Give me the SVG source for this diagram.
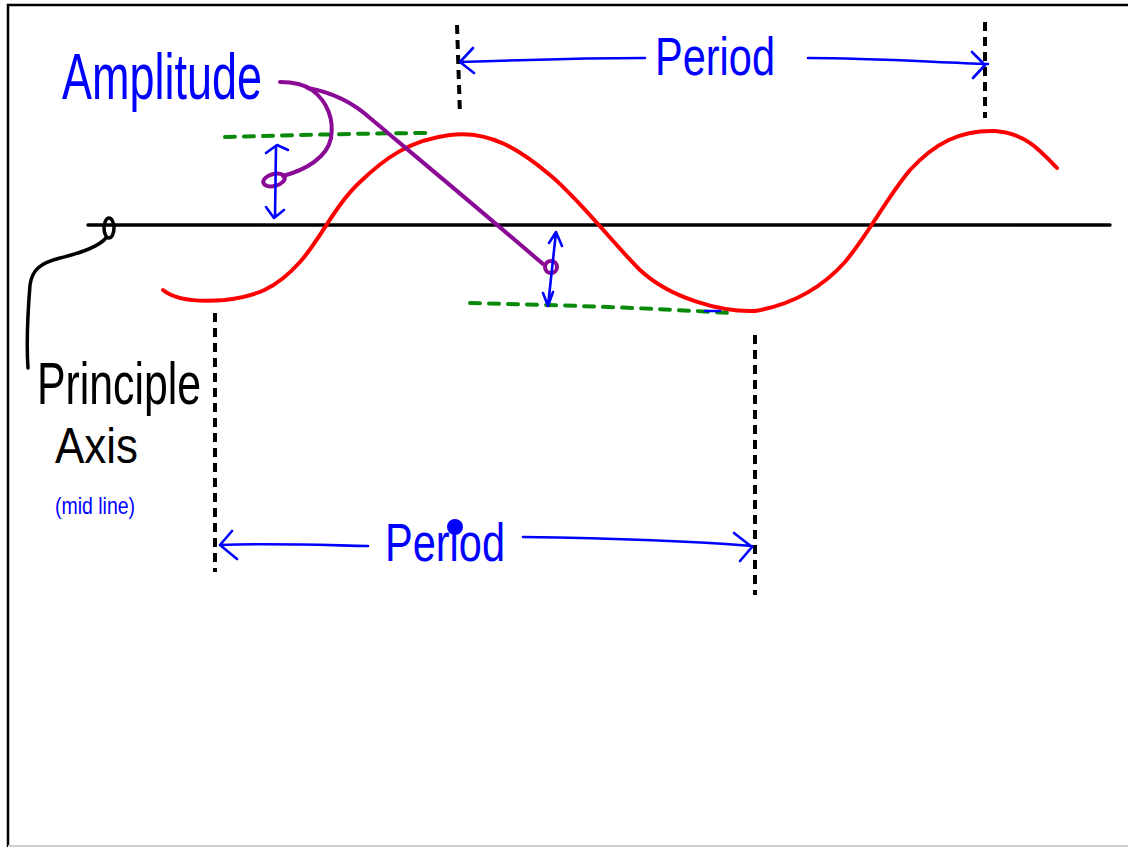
<svg xmlns="http://www.w3.org/2000/svg" width="1128" height="847" viewBox="0 0 1128 847">
<style>
.ink{fill:none;stroke-linecap:round;stroke-linejoin:round}
.blk{stroke:#000;stroke-width:3.5}
.dash{stroke:#000;stroke-width:4;stroke-dasharray:9 6;fill:none}
.grn{stroke:#0a8a0a;stroke-width:4;stroke-dasharray:10 9;fill:none;stroke-linecap:round}
.red{stroke:#ff0000;stroke-width:4}
.pur{stroke:#8a0a96;stroke-width:4}
.blu{stroke:#0000ff;stroke-width:2.6}
.t{font-family:"Liberation Sans","DejaVu Sans",sans-serif}
</style>
<rect x="0" y="0" width="1128" height="847" fill="#fff"/>
<g id="frame">
<path d="M8,847 L8,5 L1128,5" fill="none" stroke="#000" stroke-width="2.5"/>
<line x1="8" y1="846" x2="1128" y2="846" stroke="#d0d0d0" stroke-width="2"/>
</g>
<g id="axis">
<line class="ink blk" x1="88" y1="225" x2="1110" y2="225" stroke-width="4"/>
<ellipse class="ink blk" cx="109" cy="228" rx="5" ry="10" stroke-width="2.5"/>
</g>
<g id="wave">
<path class="ink red" d="M163,290 C175,300 200,302 225,300 C255,296 275,290 300,262 C320,240 335,205 360,182 C385,158 410,140 450,135 C490,130 520,150 550,175 C580,200 610,240 640,270 C670,298 720,312 755,311 C790,305 820,290 845,262 C870,232 885,200 910,170 C935,143 960,130 995,131 C1025,133 1040,150 1057,168"/>
</g>
<g id="guides">
<path class="grn" d="M225,137 C300,135 380,133 432,133"/>
<path class="grn" d="M470,303 C560,305 650,308 730,313"/>
<line class="dash" x1="457" y1="25" x2="460" y2="115"/>
<line class="dash" x1="985" y1="22" x2="985" y2="118"/>
<line class="dash" x1="215" y1="313" x2="215" y2="572"/>
<line class="dash" x1="755" y1="335" x2="755" y2="595"/>
</g>
<g id="connectors">
<path class="ink pur" d="M280,82 C295,82 305,85 312,90 C328,102 334,120 331,138 C327,158 305,170 283,176"/>
<ellipse class="ink pur" cx="274" cy="180" rx="11" ry="6" transform="rotate(-15 274 180)" stroke-width="3.5"/>
<path class="ink pur" d="M308,88 C330,92 350,100 370,118 C420,160 480,210 543,264"/>
<circle class="ink pur" cx="551" cy="267" r="6" stroke-width="3.5"/>
<path class="ink blu" d="M276,147 L275,217 M266,153 L277,145 L288,150 M266,207 L274,218 L284,210"/>
<path class="ink blu" d="M556,232 L548,306 M549,243 L556,232 L562,246 M543,293 L548,306 L553,292"/>
<path class="ink blu" d="M705,311 L720,311"/>
<path class="ink blk" stroke-width="2.5" d="M106,238 C100,245 85,252 60,258 C40,263 32,270 30,285 C28,310 26,340 28,368"/>
<path class="ink blu" d="M460,62 C520,60 590,58 645,58 M473,48 L460,62 L474,73"/>
<path class="ink blu" d="M808,58 C870,58 930,62 988,64 M972,52 L985,65 L973,78"/>
<path class="ink blu" d="M220,545 C270,543 320,545 368,546 M232,531 L220,545 L237,559"/>
<path class="ink blu" d="M523,537 C600,538 680,540 752,546 M734,533 L752,547 L740,561"/>
</g>
<g id="label-amplitude">
<text class="t" x="62" y="99" font-size="64" fill="#0000ff" textLength="200" lengthAdjust="spacingAndGlyphs">Amplitude</text>
</g>
<g id="label-period-top">
<text class="t" x="655" y="75" font-size="54" fill="#0000ff" textLength="120" lengthAdjust="spacingAndGlyphs">Period</text>
</g>
<g id="label-period-bottom">
<text class="t" x="385" y="561" font-size="54" fill="#0000ff" textLength="120" lengthAdjust="spacingAndGlyphs">Period</text>
<circle cx="455" cy="527" r="8" fill="#0000ff"/>
</g>
<g id="label-principle-axis">
<text class="t" x="37" y="404" font-size="60" fill="#000" textLength="164" lengthAdjust="spacingAndGlyphs">Principle</text>
<text class="t" x="55" y="463" font-size="50" fill="#000" textLength="83" lengthAdjust="spacingAndGlyphs">Axis</text>
<text class="t" x="55" y="514" font-size="24" fill="#0000ff" textLength="80" lengthAdjust="spacingAndGlyphs">(mid line)</text>
</g>
</svg>
